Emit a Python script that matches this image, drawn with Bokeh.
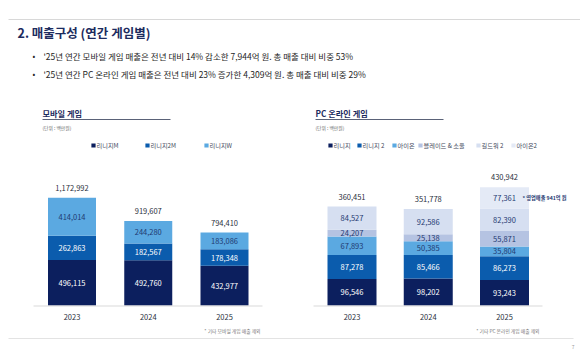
from bokeh.plotting import figure
from bokeh.models import Range1d, ColumnDataSource, Label
from bokeh.core.properties import value
from bokeh.embed import file_html
from bokeh.resources import INLINE

# ---------------- data ----------------
years = ["2023", "2024", "2025"]

mobile_series = ["리니지M", "리니지2M", "리니지W"]
mobile_lineage_m = [496115, 492760, 432977]
mobile_lineage_2m = [262863, 182567, 178348]
mobile_lineage_w = [414014, 244280, 183086]
mobile_totals = [1172992, 919607, 794410]

pc_series = ["리니지", "리니지 2", "아이온", "블레이드 & 소울", "길드워 2", "아이온2"]
pc_lineage = [96546, 98202, 93243]
pc_lineage_2 = [87278, 85466, 86273]
pc_aion = [67893, 50385, 35804]
pc_bns = [24207, 25138, 55871]
pc_gw2 = [84527, 92586, 82390]
pc_aion2 = [0, 0, 77361]
pc_totals = [360451, 351778, 430942]

title = "2. 매출구성 (연간 게임별)"
bullets = [
    "'25년 연간 모바일 게임 매출은 전년 대비 14% 감소한 7,944억 원. 총 매출 대비 비중 53%",
    "'25년 연간 PC 온라인 게임 매출은 전년 대비 23% 증가한 4,309억 원. 총 매출 대비 비중 29%",
]
mobile_title = "모바일 게임"
pc_title = "PC 온라인 게임"
unit_text = "(단위 : 백만원)"
mobile_note = "* 기타 모바일 게임 매출 제외"
pc_note = "* 기타 PC 온라인 게임 매출 제외"
aion2_note = "* 영업매출 941억 원"
page_no = "7"

# ---------------- style ----------------
FONT = "Noto Sans CJK KR"
NAVY = "#0c1f5e"
MID = "#0b5cad"
LIGHT = "#5ba9e1"
BNS = "#b5c3e2"
GW2 = "#d6dff1"
AION2 = "#e4eaf6"
mobile_colors = [NAVY, MID, LIGHT]
pc_colors = [NAVY, MID, LIGHT, BNS, GW2, AION2]
mobile_text_colors = ["white", "white", "#1f3a72"]
pc_text_colors = ["white", "white", "#1f3a72", "#1f3a72", "#1f3a72", "#1f3a72"]
TEXT_DARK = "#333a4d"
W, H = 580, 356

p = figure(width=W, height=H, x_range=Range1d(0, W), y_range=Range1d(H, 0),
           min_border=0, output_backend="svg", toolbar_location=None)
p.axis.visible = False
p.grid.visible = False
p.outline_line_color = None
p.background_fill_color = "white"
p.border_fill_color = "white"


def label(x, y, text, size, color=TEXT_DARK, bold=False, align="left", italic=False, **kw):
    style = "normal"
    if bold and italic:
        style = "bold italic"
    elif bold:
        style = "bold"
    elif italic:
        style = "italic"
    p.add_layout(Label(x=x, y=y, text=text, text_font=FONT, text_font_size=f"{size}px",
                       text_color=color, text_font_style=style, text_align=align,
                       text_baseline="middle", **kw))


# header
p.segment(x0=[8], y0=[19], x1=[580], y1=[19], line_color="#d8d8d8", line_width=1)
label(17, 32, title, 12.5, color="#1c2b5e", bold=True)
for i, b in enumerate(bullets):
    label(32, 55 + 18 * i, "•", 8, color="#222222")
    label(43, 55 + 18 * i, b, 8.5, color="#1e1e1e")

# footer
p.segment(x0=[8], y0=[338], x1=[573], y1=[338], line_color="#e3e3e3", line_width=1)
label(574, 346, page_no, 5, color="#999999", align="right")

series_title = {"mob": mobile_title, "pc": pc_title}


def stacked_chart(name, series, cols, colors, tcolors, totals, c0, step, base_y, top_y,
                  bar_w, left, right, title_x, title_line_end, legend_xs, note, note_x):
    maxv = max(totals)
    s = (base_y - top_y) / maxv
    p.extra_y_ranges[name + "_y"] = Range1d(start=(base_y - H) / s, end=base_y / s)
    p.extra_x_ranges[name + "_x"] = Range1d(start=-c0 / step, end=(W - c0) / step)
    xr, yr = name + "_x", name + "_y"

    data = {"x": list(range(len(years))), "year": years, "total": [f"{t:,}" for t in totals],
            "tv": totals, "zero": [0] * len(years)}
    keys = []
    for k, c in zip(series, cols):
        data[k] = c
        keys.append(k)
    src = ColumnDataSource(data)
    p.vbar_stack(keys, x="x", width=bar_w / step, color=colors, line_color=None,
                 source=src, x_range_name=xr, y_range_name=yr)

    lx, ly, lt, lc = [], [], [], []
    for j in range(len(years)):
        cum = 0
        for k, c, tc in zip(series, cols, tcolors):
            v = c[j]
            if v > 0:
                lx.append(j)
                ly.append(cum + v / 2)
                lt.append(f"{v:,}")
                lc.append(tc)
            cum += v
    p.text(x=lx, y=ly, text=lt, text_color=lc, text_font=value(FONT), text_font_size="7.5px",
           text_align="center", text_baseline="middle", x_range_name=xr, y_range_name=yr)
    p.text(x="x", y="tv", text="total", source=src, text_color="#2a2f3d", text_font=value(FONT),
           text_font_size="7.5px", text_align="center", text_baseline="middle", y_offset=-10,
           x_range_name=xr, y_range_name=yr)
    p.segment(x0=[left], y0=[base_y + 0.5], x1=[right], y1=[base_y + 0.5],
              line_color="#d9d9d9", line_width=1)
    p.text(x="x", y="zero", text="year", source=src, text_color="#2a2f3d",
           text_font=value(FONT), text_font_size="7.5px", text_align="center",
           text_baseline="middle", y_offset=11, x_range_name=xr, y_range_name=yr)

    label(title_x, 112, series_title[name], 8.2, color="#1c2b5e", bold=True)
    p.segment(x0=[title_x], y0=[119], x1=[title_line_end], y1=[119], line_color="#5a6278",
              line_width=1)
    label(title_x, 127, unit_text, 4.8, color="#666666")
    p.scatter(x=legend_xs, y=[145] * len(series), marker="square", size=4.2, color=colors,
              line_color=None)
    for lx_, sname in zip(legend_xs, series):
        label(lx_ + 3, 145, sname, 6.2, color="#444a5c")
    label(note_x, 330, note, 4.8, color="#777777", align="right")
    return s, xr, yr


stacked_chart("mob", mobile_series, [mobile_lineage_m, mobile_lineage_2m, mobile_lineage_w],
              mobile_colors, mobile_text_colors, mobile_totals,
              c0=71.5, step=76.25, base_y=305, top_y=197.3, bar_w=48,
              left=33, right=262, title_x=42, title_line_end=170,
              legend_xs=[93, 147, 206], note=mobile_note, note_x=260)

s_pc, xr_pc, yr_pc = stacked_chart(
    "pc", pc_series, [pc_lineage, pc_lineage_2, pc_aion, pc_bns, pc_gw2, pc_aion2],
    pc_colors, pc_text_colors, pc_totals,
    c0=351.5, step=76.25, base_y=305, top_y=186.7, bar_w=49,
    left=313, right=542, title_x=315, title_line_end=443,
    legend_xs=[330, 359, 394, 420, 478, 513], note=pc_note, note_x=539)

j = len(years) - 1
aion2_mid = sum(c[j] for c in [pc_lineage, pc_lineage_2, pc_aion, pc_bns, pc_gw2]) + pc_aion2[j] / 2
label(j, aion2_mid, aion2_note, 5.2, color="#1f3a72", bold=True,
      x_offset=18, x_range_name=xr_pc, y_range_name=yr_pc)

open("out.html", "w").write(file_html(p, INLINE))
